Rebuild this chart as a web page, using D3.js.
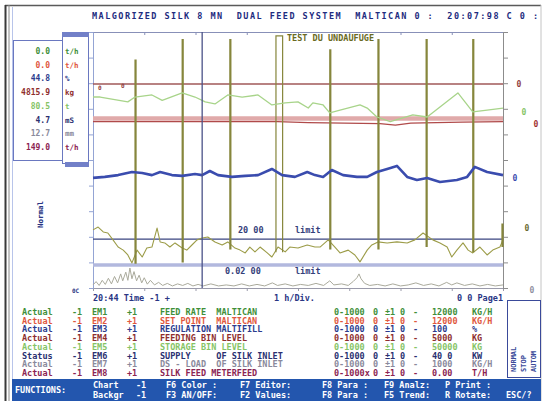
<!DOCTYPE html>
<html>
<head>
<meta charset="utf-8">
<script src="https://cdn.jsdelivr.net/npm/d3@7"></script>
<style>
  body { margin: 0; background: #fff; }
  text { font-family: 'DejaVu Sans Mono', monospace; font-weight: bold; white-space: pre; }
</style>
</head>
<body>
<div id="chart"></div>
<script>
// time axis in hours (1 h/Div), trace values in divisions (0..10)
const hourTicks = [0, 1, 2, 3, 4, 5, 6, 7, 8];
const divTicks = [0, 1, 2, 3, 4, 5, 6, 7, 8, 9, 10];

const titleText = 'MALGORIZED SILK 8 MN  DUAL FEED SYSTEM  MALTICAN 0 :  20:07:98 C 0 :';

const greenSeries = [
  [0.00, 7.46], [0.14, 7.46], [0.68, 7.27], [0.82, 7.46], [1.15, 7.54], [1.35, 7.33],
  [1.74, 7.62], [1.99, 7.46], [2.19, 7.27], [2.38, 7.19], [2.63, 7.54], [2.91, 7.46],
  [3.22, 7.54], [3.49, 7.15], [3.75, 7.23], [4.00, 7.27], [4.20, 7.03], [4.29, 7.23],
  [4.49, 7.15], [4.62, 6.84], [4.82, 6.95], [5.21, 7.15], [5.35, 7.03], [5.54, 6.68],
  [5.80, 6.50], [6.24, 6.76], [6.52, 6.68], [7.12, 7.62], [7.41, 6.88], [7.69, 6.95],
  [8.00, 7.03]
];

const blueSeries = [
  [0.00, 4.30], [0.23, 4.34], [0.49, 4.41], [0.76, 4.53], [0.96, 4.49], [1.15, 4.41],
  [1.31, 4.53], [1.54, 4.41], [1.74, 4.38], [1.99, 4.45], [2.13, 4.41], [2.28, 4.57],
  [2.44, 4.41], [2.71, 4.34], [2.97, 4.38], [3.22, 4.41], [3.49, 4.65], [3.69, 4.41],
  [3.94, 4.34], [4.18, 4.53], [4.33, 4.41], [4.49, 4.34], [4.66, 4.61], [4.88, 4.41],
  [5.15, 4.34], [5.35, 4.34], [5.54, 4.53], [5.74, 4.65], [5.93, 4.77], [6.13, 4.34],
  [6.32, 4.22], [6.52, 4.30], [6.77, 4.14], [7.10, 4.22], [7.30, 4.34], [7.45, 4.73],
  [7.69, 4.53], [8.00, 4.41]
];

const brownLevel = [[0, 7.97], [8, 7.97]];
const setpointLevel = [[0, 6.62], [8, 6.62]];
const binLevel = [
  [0.00, 6.50], [3.60, 6.50], [4.20, 6.46], [5.60, 6.42], [5.90, 6.36], [6.20, 6.44],
  [7.20, 6.48], [8.00, 6.50]
];
const upperLimit = [[0, 1.91], [8, 1.91]];
const lowerLimit = [[0, 0.90], [8, 0.90]];

const oliveSeries = [
  [0.00, 2.27], [0.10, 2.38], [0.20, 2.19], [0.29, 2.15], [0.39, 1.88], [0.49, 1.60],
  [0.59, 1.48], [0.68, 1.29], [0.76, 0.98], [0.86, 1.48], [0.96, 1.21], [1.05, 1.56],
  [1.15, 1.60], [1.25, 2.34], [1.31, 1.80], [1.40, 1.76], [1.50, 1.60], [1.60, 1.76],
  [1.74, 1.56], [1.83, 1.48], [1.93, 1.68], [2.03, 1.88], [2.13, 1.95], [2.24, 1.99],
  [2.38, 1.80], [2.52, 1.68], [2.63, 1.80], [2.77, 1.56], [2.87, 1.48], [2.97, 1.37],
  [3.06, 1.60], [3.16, 1.41], [3.26, 1.60], [3.40, 1.37], [3.49, 1.21], [3.61, 1.60],
  [3.75, 1.41], [3.84, 1.60], [4.00, 1.56], [4.18, 1.68], [4.33, 1.60], [4.43, 1.60],
  [4.59, 1.88], [4.72, 1.60], [4.82, 1.37], [4.98, 1.48], [5.11, 1.29], [5.21, 1.02],
  [5.35, 1.48], [5.44, 1.68], [5.56, 1.80], [5.74, 1.76], [5.93, 1.80], [6.13, 1.76],
  [6.28, 1.88], [6.44, 2.15], [6.63, 1.88], [6.77, 1.76], [6.91, 1.60], [7.00, 1.21],
  [7.10, 1.48], [7.22, 1.76], [7.32, 1.48], [7.41, 1.37], [7.55, 1.60], [7.69, 1.29],
  [7.80, 1.48], [7.94, 1.60], [8.00, 1.88]
];

// feed pulses on the olive trace
const spikeStarts = [0.82, 1.74, 2.67, 3.57, 4.62, 5.56, 6.50, 7.41, 7.98];
const spikeEnds   = [0.84, 1.76, 2.69, 3.70, 4.64, 5.58, 6.52, 7.43, 8.00];
const spikeTops   = [8.90, 9.70, 9.70, 9.85, 9.30, 9.70, 9.70, 9.70, 2.50];
const spikeBases  = [0.95, 1.00, 1.50, 1.40, 1.50, 1.50, 1.60, 1.40, 1.60];

const greySeries = [
  [0.00, 0.12], [0.06, 0.25], [0.12, 0.10], [0.18, 0.30], [0.24, 0.14], [0.30, 0.38],
  [0.36, 0.16], [0.42, 0.45], [0.48, 0.20], [0.54, 0.55], [0.58, 0.28], [0.64, 0.62],
  [0.68, 0.30], [0.72, 0.78], [0.76, 0.36], [0.80, 0.64], [0.85, 0.28], [0.90, 0.50],
  [0.95, 0.20], [1.00, 0.40], [1.06, 0.15], [1.12, 0.30], [1.20, 0.12], [1.28, 0.22],
  [1.36, 0.10], [1.45, 0.18], [1.55, 0.08], [1.65, 0.16], [1.75, 0.10], [1.85, 0.18],
  [1.95, 0.08], [2.05, 0.14], [2.15, 0.08], [2.30, 0.16], [2.45, 0.08], [2.60, 0.12],
  [2.75, 0.08], [2.90, 0.16], [3.05, 0.08], [3.20, 0.14], [3.35, 0.08], [3.50, 0.20],
  [3.60, 0.10], [3.75, 0.16], [3.90, 0.08], [4.05, 0.14], [4.20, 0.10], [4.35, 0.18],
  [4.50, 0.10], [4.62, 0.28], [4.70, 0.12], [4.85, 0.16], [4.98, 0.10], [5.08, 0.26],
  [5.15, 0.40], [5.19, 0.55], [5.23, 0.36], [5.30, 0.18], [5.40, 0.10], [5.55, 0.14],
  [5.70, 0.08], [5.85, 0.16], [6.00, 0.08], [6.15, 0.12], [6.30, 0.20], [6.45, 0.10],
  [6.60, 0.16], [6.75, 0.08], [6.90, 0.22], [7.00, 0.12], [7.10, 0.20], [7.25, 0.10],
  [7.40, 0.16], [7.55, 0.08], [7.70, 0.14], [7.85, 0.08], [8.00, 0.12]
];

const cursorTime = 2.13;

// left value panel
const panelValues = ['0.0', '0.0', '44.8', '4815.9', '80.5', '4.7', '12.7', '149.0'];
const panelUnits = ['t/h', 't/h', '%', 'kg', 't', 'mS', 'mm', 't/h'];

// channel table
const rowLabels = ['Actual', 'Actual', 'Actual', 'Actual', 'Actual', 'Status', 'Actual', 'Actual'];
const rowChannels = ['EM1', 'EM2', 'EM3', 'EM4', 'EM5', 'EM6', 'EM7', 'EM8'];
const rowNames = ['FEED RATE  MALTICAN', 'SET POINT  MALTICAN', 'REGULATION MALTIFILL',
  'FEEDING BIN LEVEL', 'STORAGE BIN LEVEL', 'SUPPLY     OF SILK INLET',
  'DS - LOAD  OF SILK INLET', 'SILK FEED METERFEED'];
const rowRanges = ['0-1000', '0-1000', '0-1000', '0-1000', '0-1000', '0-1000', '0-1000', '0-1000x'];
const rowMax = ['12000', '12000', '100', '5000', '50000', '40 0', '1000', '0.00'];
const rowUnits = ['KG/H', 'KG/H', '%', 'KG', 'KG', 'KW', 'KG/H', 'T/H'];
const rowColors = ['#3f8f3a', '#e0583e', '#2c3c8e', '#8e2e2e', '#86c466', '#2a3070', '#8a8a9c', '#8c2452'];

// right-hand trace markers (value at which they sit)
const markerValues = [7.97, 6.88, 6.40, 4.30, 2.34, -0.08];
const markerColors = ['#904040', '#86c466', '#a03030', '#3a4cae', '#6a6a30', '#9090a0'];

const footerTop = ['Chart', '-1', 'F6 Color :', 'F7 Editor:', 'F8 Para :', 'F9 Analz:', 'P Print :'];
const footerBottom = ['Backgr', '-1', 'F3 AN/OFF:', 'F2 Values:', 'F8 Para :', 'F5 Trend:', 'R Rotate:'];

class TrendScreen {

  constructor(_config) {
    this.config = {
      parentElement: _config.parentElement,
      containerWidth: 544,
      containerHeight: 401,
      plot: { left: 93, right: 503, top: 32, bottom: 288 }
    };
    this.initVis();
  }

  initVis() {
    let vis = this;
    const p = vis.config.plot;

    vis.svg = d3.select(vis.config.parentElement).append('svg')
      .attr('width', vis.config.containerWidth)
      .attr('height', vis.config.containerHeight);

    vis.xScale = d3.scaleLinear().domain([0, 8]).range([p.left, p.right]);
    vis.yScale = d3.scaleLinear().domain([0, 10]).range([p.bottom, p.top]);

    vis.line = d3.line()
      .x(d => vis.xScale(d[0]))
      .y(d => vis.yScale(d[1]));

    vis.drawFrame();
    vis.renderVis();
    vis.drawPanel();
    vis.drawTable();
  }

  drawFrame() {
    let vis = this;
    const frame = vis.svg.append('g');
    frame.append('line').attr('x1', 5).attr('x2', 541).attr('y1', 5.5).attr('y2', 5.5)
      .attr('stroke', '#5a5a5a').attr('stroke-width', 1.5);
    frame.append('line').attr('x1', 5.5).attr('x2', 5.5).attr('y1', 5).attr('y2', 401)
      .attr('stroke', '#3a3a3a').attr('stroke-width', 2);
    frame.append('line').attr('x1', 9).attr('x2', 9).attr('y1', 5).attr('y2', 401)
      .attr('stroke', '#8a8a8a').attr('stroke-width', 1);
    frame.append('line').attr('x1', 12.5).attr('x2', 12.5).attr('y1', 7).attr('y2', 380)
      .attr('stroke', '#b8c4ea').attr('stroke-width', 1);
    frame.append('line').attr('x1', 541).attr('x2', 541).attr('y1', 5).attr('y2', 401)
      .attr('stroke', '#c4c4c4').attr('stroke-width', 1);

    vis.svg.append('text')
      .attr('x', 92).attr('y', 19)
      .attr('textLength', 446).attr('lengthAdjust', 'spacing')
      .attr('font-size', 8.5).attr('fill', '#1e2c80')
      .text(titleText);
  }

  renderVis() {
    let vis = this;
    const p = vis.config.plot;

    // axes
    const axisStyle = (g, color) => {
      g.selectAll('path, line').attr('stroke', color);
    };
    vis.svg.append('g').attr('transform', `translate(0,${p.top})`)
      .call(d3.axisBottom(vis.xScale).tickValues(hourTicks).tickSize(3).tickSizeOuter(0).tickFormat(''))
      .call(g => axisStyle(g, '#8890b8'));
    vis.svg.append('g').attr('transform', `translate(0,${p.bottom})`)
      .call(d3.axisBottom(vis.xScale).tickValues(hourTicks).tickSize(3).tickSizeOuter(0).tickFormat(''))
      .call(g => axisStyle(g, '#9a9aaa'));
    vis.svg.append('g').attr('transform', `translate(${p.left},0)`)
      .call(d3.axisLeft(vis.yScale).tickValues(divTicks).tickSize(4).tickSizeOuter(0).tickFormat(''))
      .call(g => axisStyle(g, '#94a4d4'));
    vis.svg.append('g').attr('transform', `translate(${p.right},0)`)
      .call(d3.axisRight(vis.yScale).tickValues(divTicks).tickSize(5).tickSizeOuter(0).tickFormat(''))
      .call(g => axisStyle(g, '#8c8c8c'));

    const traces = vis.svg.append('g').attr('fill', 'none');
    const addTrace = (data, color, width) => traces.append('path')
      .datum(data).attr('d', vis.line)
      .attr('stroke', color).attr('stroke-width', width)
      .attr('stroke-linejoin', 'round');

    addTrace(lowerLimit, '#b2b8de', 3.5);
    addTrace(upperLimit, '#3a4580', 1.3);
    addTrace(setpointLevel, '#e0aaaa', 4.5);
    addTrace(binLevel, '#b04a4a', 1.2);
    addTrace(brownLevel, '#a05858', 1.5);
    addTrace(greySeries, '#aaaa9c', 1);
    addTrace(oliveSeries, '#9c9c48', 1.1);

    const spikes = spikeStarts.map((s, i) => [
      [s, spikeBases[i]], [s, spikeTops[i]], [spikeEnds[i], spikeTops[i]], [spikeEnds[i], spikeBases[i]]
    ]);
    traces.selectAll('.spike').data(spikes).join('path')
      .attr('class', 'spike')
      .attr('d', vis.line)
      .attr('stroke', '#86863c').attr('stroke-width', 1.2);

    addTrace(greenSeries, '#a8d48a', 1.3);
    addTrace(blueSeries, '#3a4cae', 2.6);

    traces.append('line')
      .attr('x1', vis.xScale(cursorTime)).attr('x2', vis.xScale(cursorTime))
      .attr('y1', p.top).attr('y2', p.bottom)
      .attr('stroke', '#4a5288').attr('stroke-width', 1.3);

    // labels inside the plot
    const lbl = vis.svg.append('g').attr('font-size', 8.5);
    lbl.append('text').attr('x', 287).attr('y', 41).attr('fill', '#6a6a22').text('TEST DU UNDAUFUGE');
    lbl.append('text').attr('x', 238).attr('y', vis.yScale(1.91) - 6).attr('fill', '#34407a').text('20 00');
    lbl.append('text').attr('x', 295).attr('y', vis.yScale(1.91) - 6).attr('fill', '#34407a').text('limit');
    lbl.append('text').attr('x', 225).attr('y', vis.yScale(0.9) + 9).attr('fill', '#34407a').text('0.02 00');
    lbl.append('text').attr('x', 295).attr('y', vis.yScale(0.9) + 9).attr('fill', '#34407a').text('limit');
    lbl.append('text').attr('x', 98).attr('y', vis.yScale(7.97) + 6).attr('font-size', 6).attr('fill', '#904040').text('0');
    lbl.append('text').attr('x', 121).attr('y', vis.yScale(7.97) + 4).attr('font-size', 6).attr('fill', '#904040').text('0');

    const markerX = [519, 524, 536, 515, 527, 532];
    lbl.selectAll('.marker').data(markerValues).join('text')
      .attr('class', 'marker')
      .attr('x', (d, i) => markerX[i])
      .attr('y', d => vis.yScale(d) + 3)
      .attr('font-size', 8)
      .attr('text-anchor', 'middle')
      .attr('fill', (d, i) => markerColors[i])
      .text('0');

    // time line under the plot
    const foot = vis.svg.append('g').attr('font-size', 8.5).attr('fill', '#2a3684');
    foot.append('text').attr('x', 93).attr('y', 301).text('20:44 Time -1 +');
    foot.append('text').attr('x', 274).attr('y', 301).text('1 h/Div.');
    foot.append('text').attr('x', 503).attr('y', 301).attr('text-anchor', 'end').text('0 0 Page1');
    foot.append('text').attr('x', 72).attr('y', 293).attr('font-size', 6).text('0C');
  }

  drawPanel() {
    let vis = this;
    const g = vis.svg.append('g');
    g.append('rect').attr('x', 13.5).attr('y', 40.5).attr('width', 49).attr('height', 120)
      .attr('fill', 'none').attr('stroke', '#6a78c0');
    g.append('rect').attr('x', 62.5).attr('y', 32.5).attr('width', 26).attr('height', 131)
      .attr('fill', 'none').attr('stroke', '#6a78c0');
    g.append('rect').attr('x', 62).attr('y', 32).attr('width', 27).attr('height', 5).attr('fill', '#7280c8');
    g.append('rect').attr('x', 65).attr('y', 162).attr('width', 24).attr('height', 5).attr('fill', '#7280c8');

    const rowY = d3.scaleLinear().domain([0, panelValues.length - 1]).range([54, 150]);
    g.selectAll('.pval').data(panelValues).join('text')
      .attr('class', 'pval')
      .attr('x', 50).attr('y', (d, i) => rowY(i))
      .attr('text-anchor', 'end').attr('font-size', 8)
      .attr('fill', (d, i) => rowColors[i])
      .text(d => d);
    g.selectAll('.punit').data(panelUnits).join('text')
      .attr('class', 'punit')
      .attr('x', 65).attr('y', (d, i) => rowY(i))
      .attr('font-size', 7.5)
      .attr('fill', (d, i) => rowColors[i])
      .text(d => d);

    g.append('text')
      .attr('transform', 'translate(43,228) rotate(-90)')
      .attr('font-size', 7.5).attr('fill', '#2a3684')
      .text('Normal');
  }

  drawTable() {
    let vis = this;
    const g = vis.svg.append('g').attr('font-size', 8.5);
    const rowY = d3.scaleLinear().domain([0, rowLabels.length - 1]).range([312, 373]);

    const cols = [
      { x: 22, f: i => rowLabels[i] },
      { x: 72, f: () => '-1' },
      { x: 92, f: i => rowChannels[i] },
      { x: 127, f: () => '+1' },
      { x: 160, f: i => rowNames[i] },
      { x: 334, f: i => rowRanges[i] },
      { x: 373, f: () => '0' },
      { x: 385, f: () => '\u00b11' },
      { x: 400, f: () => '0' },
      { x: 413, f: () => '-' },
      { x: 432, f: i => rowMax[i] },
      { x: 472, f: i => rowUnits[i] }
    ];

    rowLabels.forEach((r, i) => {
      const row = g.append('g').attr('fill', rowColors[i]);
      cols.forEach(c => {
        row.append('text').attr('x', c.x).attr('y', rowY(i) + 3).text(c.f(i));
      });
    });

    // status box at right
    const box = vis.svg.append('g');
    box.append('rect').attr('x', 507.5).attr('y', 300.5).attr('width', 33).attr('height', 77)
      .attr('fill', 'none').attr('stroke', '#3a4a9a');
    ['NORMAL', 'STOP', 'AUTOM'].forEach((t, i) => {
      box.append('text')
        .attr('transform', `translate(${516 + i * 10},372) rotate(-90)`)
        .attr('font-size', 7).attr('fill', '#3a4a9a')
        .text(t);
    });

    // function key bar
    const bar = vis.svg.append('g');
    bar.append('rect').attr('x', 12).attr('y', 379).attr('width', 529).attr('height', 22).attr('fill', '#2356ae');
    bar.append('text').attr('x', 15).attr('y', 393).attr('font-size', 8.5).attr('fill', '#fff').text('FUNCTIONS:');
    const keyX = [93, 136, 166, 240, 322, 384, 445];
    [footerTop, footerBottom].forEach((line, li) => {
      line.forEach((t, i) => {
        bar.append('text').attr('x', keyX[i]).attr('y', 388 + li * 10)
          .attr('font-size', 8.5).attr('fill', '#fff').text(t);
      });
    });
    bar.append('text').attr('x', 506).attr('y', 398).attr('font-size', 8.5).attr('fill', '#fff').text('ESC/?');
  }
}

const screen = new TrendScreen({ parentElement: '#chart' });
</script>
</body>
</html>
